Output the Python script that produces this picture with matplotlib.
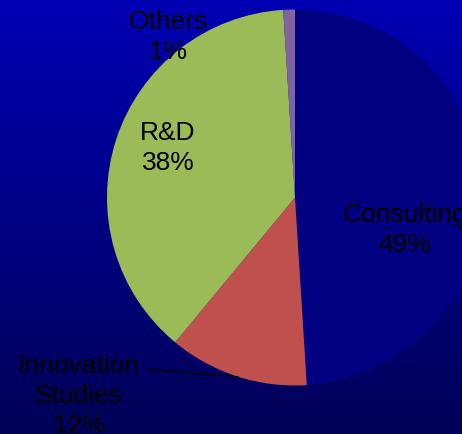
import matplotlib.pyplot as plt
import numpy as np

labels = ["Consulting", "Innovation\nStudies", "R&D", "Others"]
shares = [49, 12, 38, 1]
colors = ["#000080", "#C0504D", "#9BBB59", "#8064A2"]

fig = plt.figure(figsize=(4.62, 4.35), dpi=100)

# background gradient
bg = fig.add_axes([0, 0, 1, 1])
grad = np.linspace(0, 1, 256).reshape(-1, 1)
top = np.array([0, 0, 180]) / 255
bot = np.array([0, 0, 86]) / 255
img = top[None, None, :] * (1 - grad[:, :, None]) + bot[None, None, :] * grad[:, :, None]
bg.imshow(img, aspect="auto", extent=[0, 1, 0, 1])
bg.axis("off")

ax = fig.add_axes([0, 0, 1, 1])
ax.set_facecolor("none")
r = 188.0
cx, cy = 295.0, 198.5
ax.pie(shares, colors=colors, startangle=90, counterclock=False,
       wedgeprops=dict(linewidth=0), frame=True)
ax.set_xlim(-cx / r, (462 - cx) / r)
ax.set_ylim(-(435 - cy) / r, cy / r)
ax.set_aspect("auto")
ax.axis("off")

label_pos = [(0.585, -0.168), (-1.149, -1.051), (-0.676, 0.268), (-0.676, 0.859)]
for lab, val, (x, y) in zip(labels, shares, label_pos):
    ax.text(x, y, f"{lab}\n{val}%", ha="center", va="center",
            fontsize=19, family="Liberation Sans", color="black",
            linespacing=1.33)

ax.plot([-0.787, -0.303], [-0.912, -0.955], color="black", lw=1.0)

fig.savefig("out.png", dpi=100)
